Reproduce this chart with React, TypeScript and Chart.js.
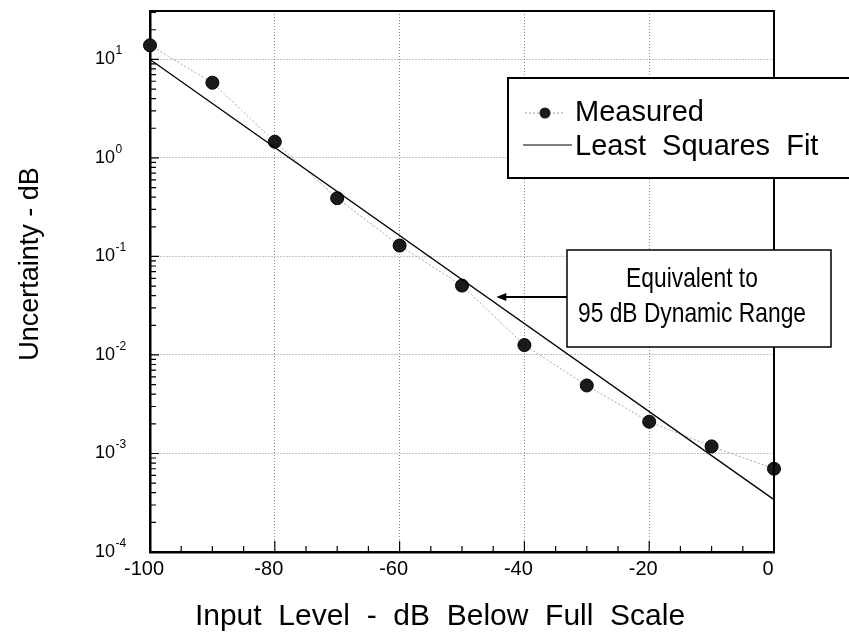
import React, { useEffect, useRef } from "react";
import { Chart, registerables } from "chart.js";

Chart.register(...registerables);

// ---- data ----
const inputLevels = [-100, -90, -80, -70, -60, -50, -40, -30, -20, -10, 0];
const measured = [13.9, 5.8, 1.46, 0.39, 0.129, 0.0506, 0.0126, 0.0049, 0.0021, 0.00118, 0.0007];
const fitLevels = [-100, 0];
const fitValues = [10, 0.00034];
const xTickValues = [-100, -80, -60, -40, -20, 0];
const yTickValues = [1e-4, 1e-3, 1e-2, 1e-1, 1, 10];
const yTickBase = "10";
const yTickExponents = ["-4", "-3", "-2", "-1", "0", "1"];
const legendLabels = ["Measured", "Least  Squares  Fit"];
const noteLines = ["Equivalent to", "95 dB Dynamic Range"];
const arrowTip = { x: -44.5, y: 0.0387 };
const xTitle = "Input  Level  -  dB  Below  Full  Scale";
const yTitle = "Uncertainty - dB";

const X_MIN = -100;
const X_MAX = 0;
const Y_MIN = 1e-4;
const Y_MAX = 31;

const FONT = "'Liberation Sans', Arial, Helvetica, sans-serif";

const decorPlugin = {
  id: "decor",
  afterDatasetsDraw(chart: any) {
    const ctx = chart.ctx as CanvasRenderingContext2D;
    const { left, right, top, bottom } = chart.chartArea;
    const xs = chart.scales.x;
    const ys = chart.scales.y;
    ctx.save();

    // frame top & right
    ctx.strokeStyle = "#000";
    ctx.lineWidth = 2;
    ctx.setLineDash([]);
    ctx.beginPath();
    ctx.moveTo(left - 1, top);
    ctx.lineTo(right, top);
    ctx.lineTo(right, bottom + 1);
    ctx.stroke();

    // minor / major tick marks (inside)
    ctx.lineWidth = 1.2;
    ctx.beginPath();
    for (let v = X_MIN + 5; v < X_MAX; v += 5) {
      const px = xs.getPixelForValue(v);
      const len = v % 20 === 0 ? 11 : 6;
      ctx.moveTo(px, bottom);
      ctx.lineTo(px, bottom - len);
    }
    for (let k = -4; k <= 1; k++) {
      for (let m = 1; m <= 9; m++) {
        const v = m * Math.pow(10, k);
        if (v <= Y_MIN || v >= Y_MAX) continue;
        const py = ys.getPixelForValue(v);
        const len = m === 1 ? 9 : 6;
        ctx.moveTo(left, py);
        ctx.lineTo(left + len, py);
      }
    }
    ctx.stroke();

    // y tick labels with superscript exponents
    ctx.fillStyle = "#000";
    ctx.textAlign = "left";
    yTickValues.forEach((v, i) => {
      const py = ys.getPixelForValue(v);
      const x0 = left - 55;
      ctx.font = `18px ${FONT}`;
      ctx.textBaseline = "middle";
      ctx.fillText(yTickBase, x0, py);
      const bw = ctx.measureText(yTickBase).width;
      ctx.font = `12px ${FONT}`;
      ctx.textBaseline = "alphabetic";
      ctx.fillText(yTickExponents[i], x0 + bw + 0.5, py - 5);
    });

    // legend box
    ctx.fillStyle = "#fff";
    ctx.fillRect(508, 78, 360, 100);
    ctx.strokeStyle = "#000";
    ctx.lineWidth = 2;
    ctx.strokeRect(508, 78, 360, 100);
    // measured sample
    ctx.strokeStyle = "#999";
    ctx.lineWidth = 1;
    ctx.setLineDash([2, 2]);
    ctx.beginPath();
    ctx.moveTo(525, 113);
    ctx.lineTo(564, 113);
    ctx.stroke();
    ctx.setLineDash([]);
    ctx.fillStyle = "#1a1a1a";
    ctx.beginPath();
    ctx.arc(545, 113, 5.5, 0, Math.PI * 2);
    ctx.fill();
    // fit sample
    ctx.strokeStyle = "#000";
    ctx.lineWidth = 1.2;
    ctx.beginPath();
    ctx.moveTo(523, 145);
    ctx.lineTo(572, 145);
    ctx.stroke();
    ctx.fillStyle = "#000";
    ctx.font = `29px ${FONT}`;
    ctx.textAlign = "left";
    ctx.textBaseline = "alphabetic";
    ctx.fillText(legendLabels[0], 575, 121);
    ctx.fillText(legendLabels[1], 575, 155);

    // note box
    ctx.fillStyle = "#fff";
    ctx.fillRect(567, 250, 264, 97);
    ctx.strokeStyle = "#000";
    ctx.lineWidth = 1.5;
    ctx.strokeRect(567, 250, 264, 97);
    ctx.fillStyle = "#000";
    ctx.font = `28px ${FONT}`;
    ctx.textAlign = "center";
    const w2 = ctx.measureText(noteLines[1]).width;
    const sx = w2 > 0 ? 228 / w2 : 1;
    ctx.save();
    ctx.translate(692, 0);
    ctx.scale(sx, 1);
    ctx.fillText(noteLines[0], 0, 287);
    ctx.fillText(noteLines[1], 0, 322);
    ctx.restore();

    // arrow
    const tx = xs.getPixelForValue(arrowTip.x);
    const ty = ys.getPixelForValue(arrowTip.y);
    ctx.strokeStyle = "#000";
    ctx.fillStyle = "#000";
    ctx.lineWidth = 2;
    ctx.beginPath();
    ctx.moveTo(567, ty);
    ctx.lineTo(tx + 8, ty);
    ctx.stroke();
    ctx.beginPath();
    ctx.moveTo(tx, ty);
    ctx.lineTo(tx + 10, ty - 4);
    ctx.lineTo(tx + 10, ty + 4);
    ctx.closePath();
    ctx.fill();

    // axis titles
    ctx.font = `30px ${FONT}`;
    ctx.textAlign = "center";
    ctx.textBaseline = "alphabetic";
    ctx.fillText(xTitle, 440, 625);
    ctx.save();
    ctx.translate(38, 264);
    ctx.rotate(-Math.PI / 2);
    ctx.font = `27px ${FONT}`;
    ctx.fillText(yTitle, 0, 0);
    ctx.restore();

    ctx.restore();
  },
};

export default function App() {
  const canvasRef = useRef<HTMLCanvasElement | null>(null);

  useEffect(() => {
    const canvas = canvasRef.current;
    if (!canvas) return;
    const measuredPts = inputLevels.map((x, i) => ({ x, y: measured[i] }));
    const fitPts = fitLevels.map((x, i) => ({ x, y: fitValues[i] }));

    const chart = new Chart(canvas, {
      type: "scatter",
      data: {
        datasets: [
          {
            label: "Least Squares Fit",
            data: fitPts,
            showLine: true,
            borderColor: "#000",
            borderWidth: 1.3,
            pointRadius: 0,
            fill: false,
          },
          {
            label: "Measured",
            data: measuredPts,
            showLine: true,
            borderColor: "#a8a8a8",
            borderWidth: 1,
            borderDash: [2, 2],
            pointRadius: 6.5,
            pointBackgroundColor: "#1a1a1a",
            pointBorderColor: "#000",
            pointBorderWidth: 1,
            clip: false,
          },
        ],
      },
      options: {
        animation: false,
        responsive: false,
        events: [],
        layout: { padding: { left: 0, top: 11, right: 75, bottom: 0 } },
        plugins: {
          legend: { display: false },
          tooltip: { enabled: false },
        },
        scales: {
          x: {
            type: "linear",
            min: X_MIN,
            max: X_MAX,
            afterBuildTicks: (scale: any) => {
              scale.ticks = xTickValues.map((v) => ({ value: v }));
            },
            afterFit: (scale: any) => {
              scale.height = 90;
            },
            ticks: {
              color: "#000",
              font: { family: FONT, size: 20 },
              padding: 5,
              labelOffset: -6,
              maxRotation: 0,
              autoSkip: false,
              callback: (v: any) => String(v),
            },
            grid: {
              drawTicks: false,
              color: (c: any) =>
                c.tick && (c.tick.value === X_MIN || c.tick.value === X_MAX) ? "rgba(0,0,0,0)" : "#8c8c8c",
              lineWidth: 1,
            },
            border: { display: true, color: "#000", width: 2.5, dash: [1, 2] },
          },
          y: {
            type: "logarithmic",
            min: Y_MIN,
            max: Y_MAX,
            afterBuildTicks: (scale: any) => {
              scale.ticks = yTickValues.map((v) => ({ value: v }));
            },
            afterFit: (scale: any) => {
              scale.width = 150;
            },
            ticks: {
              display: false,
              autoSkip: false,
            },
            grid: {
              drawTicks: false,
              color: (c: any) =>
                c.tick && c.tick.value === Y_MIN ? "rgba(0,0,0,0)" : "#8c8c8c",
              lineWidth: 1,
            },
            border: { display: true, color: "#000", width: 2.5, dash: [1, 2] },
          },
        },
      },
      plugins: [decorPlugin],
    });
    return () => chart.destroy();
  }, []);

  return (
    <div style={{ position: "fixed", left: 0, top: 0, width: 849, height: 642, background: "#fff" }}>
      <canvas ref={canvasRef} width={849} height={642} style={{ width: 849, height: 642, display: "block" }} />
    </div>
  );
}
